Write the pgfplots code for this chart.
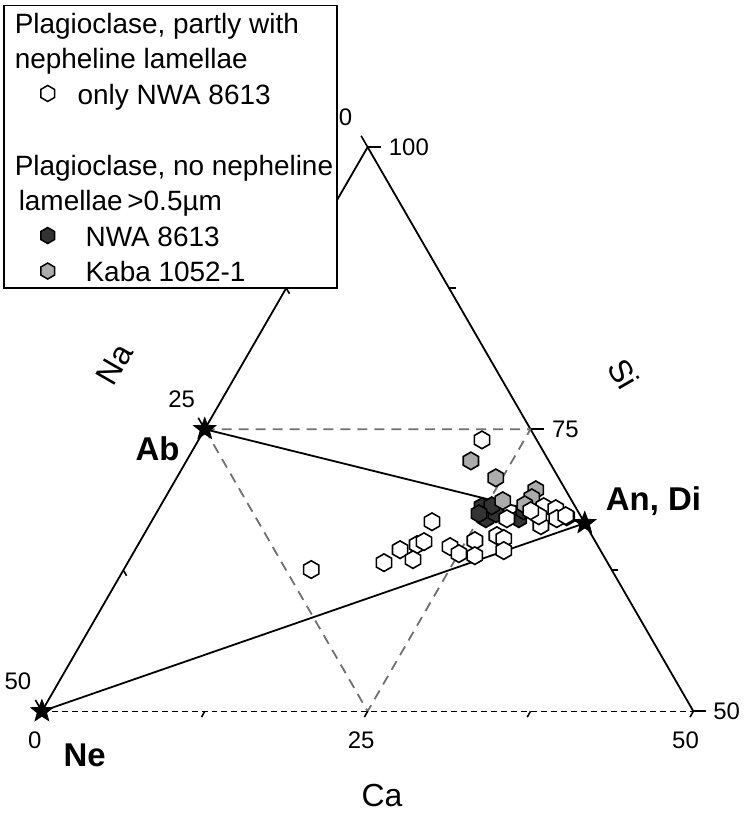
\documentclass[border=0pt]{standalone}
\usepackage{fontspec}
\setmainfont{Liberation Sans}
\usepackage{pgfplots}
\usepackage{pgfplotstable}
\pgfplotsset{compat=1.18}

% hexagon (pointy top) and filled five-point star
\pgfdeclareplotmark{hex}{%
  \pgfpathmoveto{\pgfpointpolar{90}{\pgfplotmarksize}}%
  \pgfpathlineto{\pgfpointpolar{150}{\pgfplotmarksize}}%
  \pgfpathlineto{\pgfpointpolar{210}{\pgfplotmarksize}}%
  \pgfpathlineto{\pgfpointpolar{270}{\pgfplotmarksize}}%
  \pgfpathlineto{\pgfpointpolar{330}{\pgfplotmarksize}}%
  \pgfpathlineto{\pgfpointpolar{30}{\pgfplotmarksize}}%
  \pgfpathclose
  \pgfusepathqfillstroke}
\pgfdeclareplotmark{fstar}{%
  \pgfpathmoveto{\pgfpointpolar{90}{\pgfplotmarksize}}%
  \pgfpathlineto{\pgfpointpolar{126}{0.42\pgfplotmarksize}}%
  \pgfpathlineto{\pgfpointpolar{162}{\pgfplotmarksize}}%
  \pgfpathlineto{\pgfpointpolar{198}{0.42\pgfplotmarksize}}%
  \pgfpathlineto{\pgfpointpolar{234}{\pgfplotmarksize}}%
  \pgfpathlineto{\pgfpointpolar{270}{0.42\pgfplotmarksize}}%
  \pgfpathlineto{\pgfpointpolar{306}{\pgfplotmarksize}}%
  \pgfpathlineto{\pgfpointpolar{342}{0.42\pgfplotmarksize}}%
  \pgfpathlineto{\pgfpointpolar{18}{\pgfplotmarksize}}%
  \pgfpathlineto{\pgfpointpolar{54}{0.42\pgfplotmarksize}}%
  \pgfpathclose
  \pgfusepathqfillstroke}

% ternary (Ca, Si; Na = 100 - Ca - Si) -> cartesian
\pgfplotsset{table/tern/.style={x expr=\thisrow{ca}+(\thisrow{si}-50)/2, y expr=(\thisrow{si}-50)*0.8660}}

\definecolor{darkhex}{HTML}{333333}
\definecolor{grayhex}{HTML}{ABABAB}
\definecolor{dashgray}{HTML}{707070}

% legend row strut
\newcommand{\ls}{\rule[-5pt]{0pt}{17.3pt}}

% plagioclase with nepheline lamellae (NWA 8613)
\pgfplotstableread{
ca si
21.75 74.05
21.54 66.80
14.39 62.56
19.67 63.17
20.33 64.32
21.41 64.77
21.81 65.03
21.76 63.44
24.03 64.59
25.02 63.97
25.67 65.12
26.33 63.79
27.14 65.56
27.80 65.30
28.33 64.24
27.15 67.07
29.45 68.13
30.46 67.95
30.98 67.07
30.07 66.45
29.47 67.33
31.54 67.33
28.63 67.77
}\whitepts
% no lamellae, NWA 8613
\pgfplotstableread{
ca si
24.71 68.13
25.54 67.07
26.09 67.51
25.42 68.21
28.07 67.07
28.09 67.77
24.79 67.51
}\darkpts
% no lamellae, Kaba 1052-1
\pgfplotstableread{
ca si
21.83 72.19
24.49 70.69
26.04 68.66
28.09 69.63
28.14 68.92
27.91 68.30
31.66 67.24
}\graypts

\begin{document}
\begin{tikzpicture}
\begin{axis}[
  x=6.53pt, y=6.53pt,
  xmin=-3.216, xmax=54.21, ymin=-7.657, ymax=54.59,
  hide axis, clip=false,
  legend style={at={(0.004,0.994)}, anchor=north west, draw=black, line width=0.8pt,
    fill=white, inner xsep=2pt, inner ysep=1.5pt,
    font=\fontsize{14}{17}\selectfont, cells={anchor=west},
    nodes={inner sep=0pt}, column sep=3pt, row sep=4pt},
  legend image code/.code={\path[draw=none,fill=none] (0pt,0pt) -- (32pt,0pt); \draw[#1] plot coordinates {(20pt,0pt)};},
]
\addplot[draw=none, forget plot] coordinates {(-3.216,-7.657) (54.21,54.59)};

% legend
\addlegendimage{empty legend}
\addlegendentry{\hspace*{-31.5pt}\ls Plagioclase, partly with}
\addlegendimage{empty legend}
\addlegendentry{\hspace*{-31.5pt}\ls nepheline lamellae}
\addlegendimage{only marks, mark=hex, mark size=4pt, mark options={fill=white, draw=black, line width=0.75pt}}
\addlegendentry{\ls only NWA 8613}
\addlegendimage{empty legend}
\addlegendentry{\ls}
\addlegendimage{empty legend}
\addlegendentry{\hspace*{-31.5pt}\ls Plagioclase, no nepheline}
\addlegendimage{empty legend}
\addlegendentry{\hspace*{-29.5pt}\ls lamellae\,>0.5µm}
\addlegendimage{only marks, mark=hex, mark size=4pt, mark options={fill=darkhex, draw=black, line width=0.75pt}}
\addlegendentry{\ls\hspace*{4pt}NWA 8613}
\addlegendimage{only marks, mark=hex, mark size=4pt, mark options={fill=grayhex, draw=black, line width=0.75pt}}
\addlegendentry{\ls\hspace*{4pt}Kaba 1052-1}

% triangle frame
\addplot[black, line width=0.9pt, forget plot] table[tern, row sep=\\] {ca si\\ 0 50\\ 0 100\\ 50 50\\};
\addplot[black, line width=0.7pt, dash pattern=on 3pt off 2pt, forget plot] table[tern, row sep=\\] {ca si\\ 0 50\\ 50 50\\};
% inner dashed triangle
\addplot[dashgray, line width=0.9pt, dash pattern=on 5pt off 3.5pt, forget plot] table[tern, row sep=\\] {ca si\\ 0 75\\ 25 75\\ 25 50\\ 0 75\\};
% tie lines Ab-An and Ne-An
\addplot[black, line width=0.9pt, forget plot] table[tern, row sep=\\] {ca si\\ 0 75\\ 33.33 66.67\\};
\addplot[black, line width=0.9pt, forget plot] table[tern, row sep=\\] {ca si\\ 0 50\\ 33.33 66.67\\};

% data
\addplot[only marks, mark=hex, mark size=4.4pt, mark options={fill=darkhex, draw=black, line width=0.8pt}, forget plot] table[tern] {\darkpts};
\addplot[only marks, mark=hex, mark size=4.4pt, mark options={fill=grayhex, draw=black, line width=0.8pt}, forget plot] table[tern] {\graypts};
\addplot[only marks, mark=hex, mark size=4.4pt, mark options={fill=white, draw=black, line width=0.8pt}, forget plot] table[tern] {\whitepts};

% end members
\addplot[only marks, mark=fstar, mark size=5.8pt, mark options={fill=black, draw=black}, forget plot] table[tern, row sep=\\] {ca si\\ 0 50\\ 0 75\\ 33.33 66.67\\};

% ticks
\draw[black, line width=0.8pt] (25,43.30) -- (26,43.30) (37.5,21.65) -- (38.5,21.65) (50,0) -- (51,0);
\draw[black, line width=0.8pt] (31.25,32.48) -- (31.75,32.48) (43.75,10.83) -- (44.25,10.83);
\draw[black, line width=0.8pt] (25,43.30) -- (24.5,44.17) (12.5,21.65) -- (12,22.52) (0,0) -- (-0.5,0.87);
\draw[black, line width=0.8pt] (18.75,32.48) -- (19.0,32.05) (6.25,10.83) -- (6.5,10.40);
\draw[black, line width=0.8pt] (25,0) -- (24.75,-0.45) (50,0) -- (49.75,-0.45) (12.5,0) -- (12.25,-0.45) (37.5,0) -- (37.25,-0.45);

% tick labels
\begin{scope}[every node/.style={inner sep=0pt, font=\fontsize{12}{14}\selectfont}]
\node at (23.3,45.56) {0};
\node[anchor=west] at (26.6,43.30) {100};
\node at (10.72,23.97) {25};
\node[anchor=west] at (39.13,21.6) {75};
\node at (-1.84,2.30) {50};
\node[anchor=west] at (51.5,0) {50};
\node at (-0.54,-2.22) {0};
\node at (24.5,-2.22) {25};
\node at (49.4,-2.22) {50};
\end{scope}

% axis names and end members
\node[font=\fontsize{16}{18}\selectfont, rotate=60] at (5.59,26.65) {Na};
\node[font=\fontsize{16}{18}\selectfont, rotate=-60] at (44.64,25.88) {Si};
\node[font=\fontsize{16}{18}\selectfont] at (26.11,-6.43) {Ca};
\node[font=\fontsize{16.5}{18}\selectfont\bfseries] at (8.88,20.14) {Ab};
\node[font=\fontsize{16.5}{18}\selectfont\bfseries] at (3.29,-3.37) {Ne};
\node[font=\fontsize{16.5}{18}\selectfont\bfseries] at (46.94,16.16) {An, Di};
\end{axis}
\end{tikzpicture}
\end{document}
